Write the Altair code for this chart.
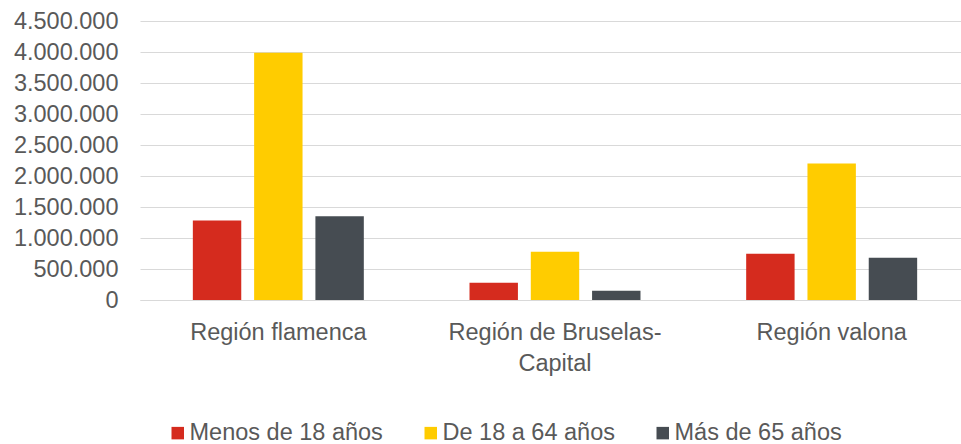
import altair as alt
import pandas as pd

regions = ["Región flamenca", "Región de Bruselas-Capital", "Región valona"]
groups = ["Menos de 18 años", "De 18 a 64 años", "Más de 65 años"]
under18 = [1282000, 277000, 745000]
age18_64 = [3987000, 777000, 2200000]
over65 = [1352000, 148000, 681000]
colors = ["#D52B1E", "#FFCC00", "#464C52"]
y_ticks = [0, 500000, 1000000, 1500000, 2000000, 2500000, 3000000, 3500000, 4000000, 4500000]

rows = []
for i, r in enumerate(regions):
    for g, vals in zip(groups, [under18, age18_64, over65]):
        rows.append({"region": r, "grupo": g, "valor": vals[i]})
df = pd.DataFrame(rows)

FONT = "Liberation Sans"
TXT = "#595959"
FS = 23.5

x_label_expr = (
    "indexof(datum.label, '-') > 0 ? "
    "[slice(datum.label, 0, indexof(datum.label, '-') + 1), slice(datum.label, indexof(datum.label, '-') + 1)] "
    ": datum.label"
)
y_label_expr = "replace(format(datum.value, ','), regexp(',', 'g'), '.')"

chart = alt.Chart(df).mark_bar().encode(
    x=alt.X(
        "region:N", sort=regions, title=None,
        scale=alt.Scale(range=[0, 830], paddingInner=0.382, paddingOuter=0.191),
        axis=alt.Axis(labelAngle=0, labelFont=FONT, labelFontSize=FS, labelColor=TXT,
                      ticks=False, tickSize=0, labelPadding=20, domainColor="#D9D9D9",
                      labelExpr=x_label_expr, labelLineHeight=31, labelBaseline="top",
                      labelLimit=400),
    ),
    xOffset=alt.XOffset("grupo:N", sort=groups,
                        scale=alt.Scale(paddingInner=0.21, paddingOuter=0)),
    y=alt.Y(
        "valor:Q", title=None, scale=alt.Scale(domain=[0, 4500000], nice=False),
        axis=alt.Axis(values=y_ticks, labelExpr=y_label_expr, labelFont=FONT,
                      labelFontSize=FS, labelColor=TXT, ticks=False, tickSize=0,
                      labelPadding=22, domain=False, gridColor="#D9D9D9", gridWidth=1),
    ),
    color=alt.Color(
        "grupo:N", sort=groups, scale=alt.Scale(domain=groups, range=colors),
        legend=alt.Legend(title=None, orient="none", legendX=26, legendY=400,
                          direction="horizontal", symbolType="square", symbolSize=156,
                          symbolStrokeWidth=0, labelFont=FONT, labelFontSize=FS,
                          labelColor=TXT, labelOffset=0, columnPadding=36,
                          labelLimit=400, padding=0),
    ),
).properties(
    width=821, height=279,
    autosize=alt.AutoSizeParams(type="none"),
    padding={"left": 140, "top": 21, "right": 0, "bottom": 144},
).configure_view(strokeWidth=0)

chart.save("out.html", embed_options={"renderer": "svg", "actions": False})
